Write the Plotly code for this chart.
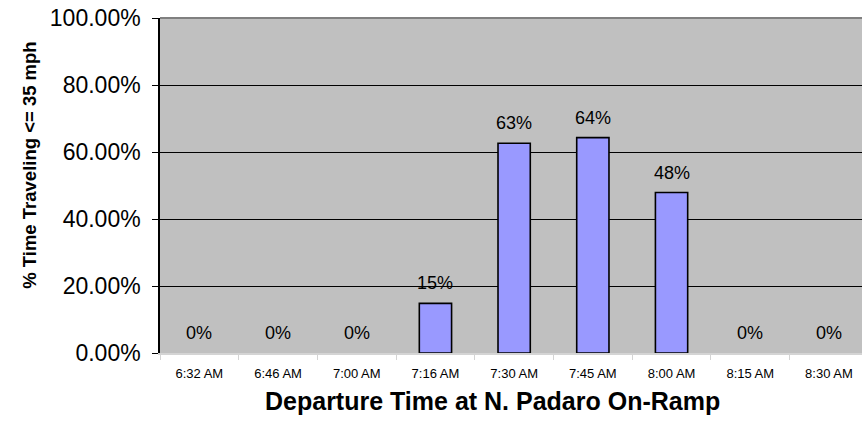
import plotly.graph_objects as go

# Departure times and share of time spent at or below 35 mph
departure_times = ["6:32 AM", "6:46 AM", "7:00 AM", "7:16 AM", "7:30 AM",
                   "7:45 AM", "8:00 AM", "8:15 AM", "8:30 AM"]
share_slow = [0.0, 0.0, 0.0, 0.148, 0.626, 0.643, 0.479, 0.0, 0.0]

y_tick_values = [0.0, 0.2, 0.4, 0.6, 0.8, 1.0]

FONT = "Liberation Sans, Arial, sans-serif"

# Empty bars get no outline so nothing is drawn for them
outline_widths = [1.6 if v > 0 else 0 for v in share_slow]

fig = go.Figure()
fig.add_trace(go.Bar(
    x=departure_times,
    y=share_slow,
    width=0.41,
    marker=dict(color="#9999FF", line=dict(color="black", width=outline_widths)),
    hoverinfo="skip",
))

# Value labels above each bar
for t, v in zip(departure_times, share_slow):
    fig.add_annotation(
        x=t, y=v, text=f"{v:.0%}", showarrow=False,
        xanchor="center", yanchor="middle", yshift=20,
        font=dict(family=FONT, size=18, color="black"),
    )

# Axis titles
fig.add_annotation(
    xref="paper", yref="paper", x=0.473, y=-0.143,
    text="<b>Departure Time at N. Padaro On-Ramp</b>", showarrow=False,
    xanchor="center", yanchor="middle",
    font=dict(family=FONT, size=25, color="black"),
)
fig.add_annotation(
    xref="paper", yref="paper", x=-0.187, y=0.561,
    text="<b>% Time Traveling <= 35 mph</b>", showarrow=False, textangle=-90,
    xanchor="center", yanchor="middle",
    font=dict(family=FONT, size=18.5, color="black"),
)

# Dark top border of the plot area
fig.add_shape(type="line", xref="paper", yref="paper", x0=0, x1=1, y0=1, y1=1,
              line=dict(color="#808080", width=2), layer="above")

fig.update_layout(
    width=862, height=426,
    margin=dict(l=160, r=0, t=18, b=73),
    paper_bgcolor="white",
    plot_bgcolor="#C0C0C0",
    showlegend=False,
    xaxis=dict(
        type="category",
        range=[-0.5, 8.42],
        showgrid=False,
        showline=True, linecolor="#D4D4D4", linewidth=2,
        ticks="outside", tickson="boundaries", ticklen=5, tickcolor="#D4D4D4",
        tickfont=dict(family=FONT, size=13, color="black"),
        ticklabelstandoff=7,
    ),
    yaxis=dict(
        range=[0, 1],
        tickvals=y_tick_values,
        tickformat=".2%",
        showgrid=True, gridcolor="black", gridwidth=1,
        zeroline=False,
        showline=True, linecolor="black", linewidth=1.5,
        ticks="outside", ticklen=6, tickcolor="black",
        tickfont=dict(family=FONT, size=23, color="black"),
        ticklabelstandoff=7,
    ),
)

fig.write_html("out.html")
